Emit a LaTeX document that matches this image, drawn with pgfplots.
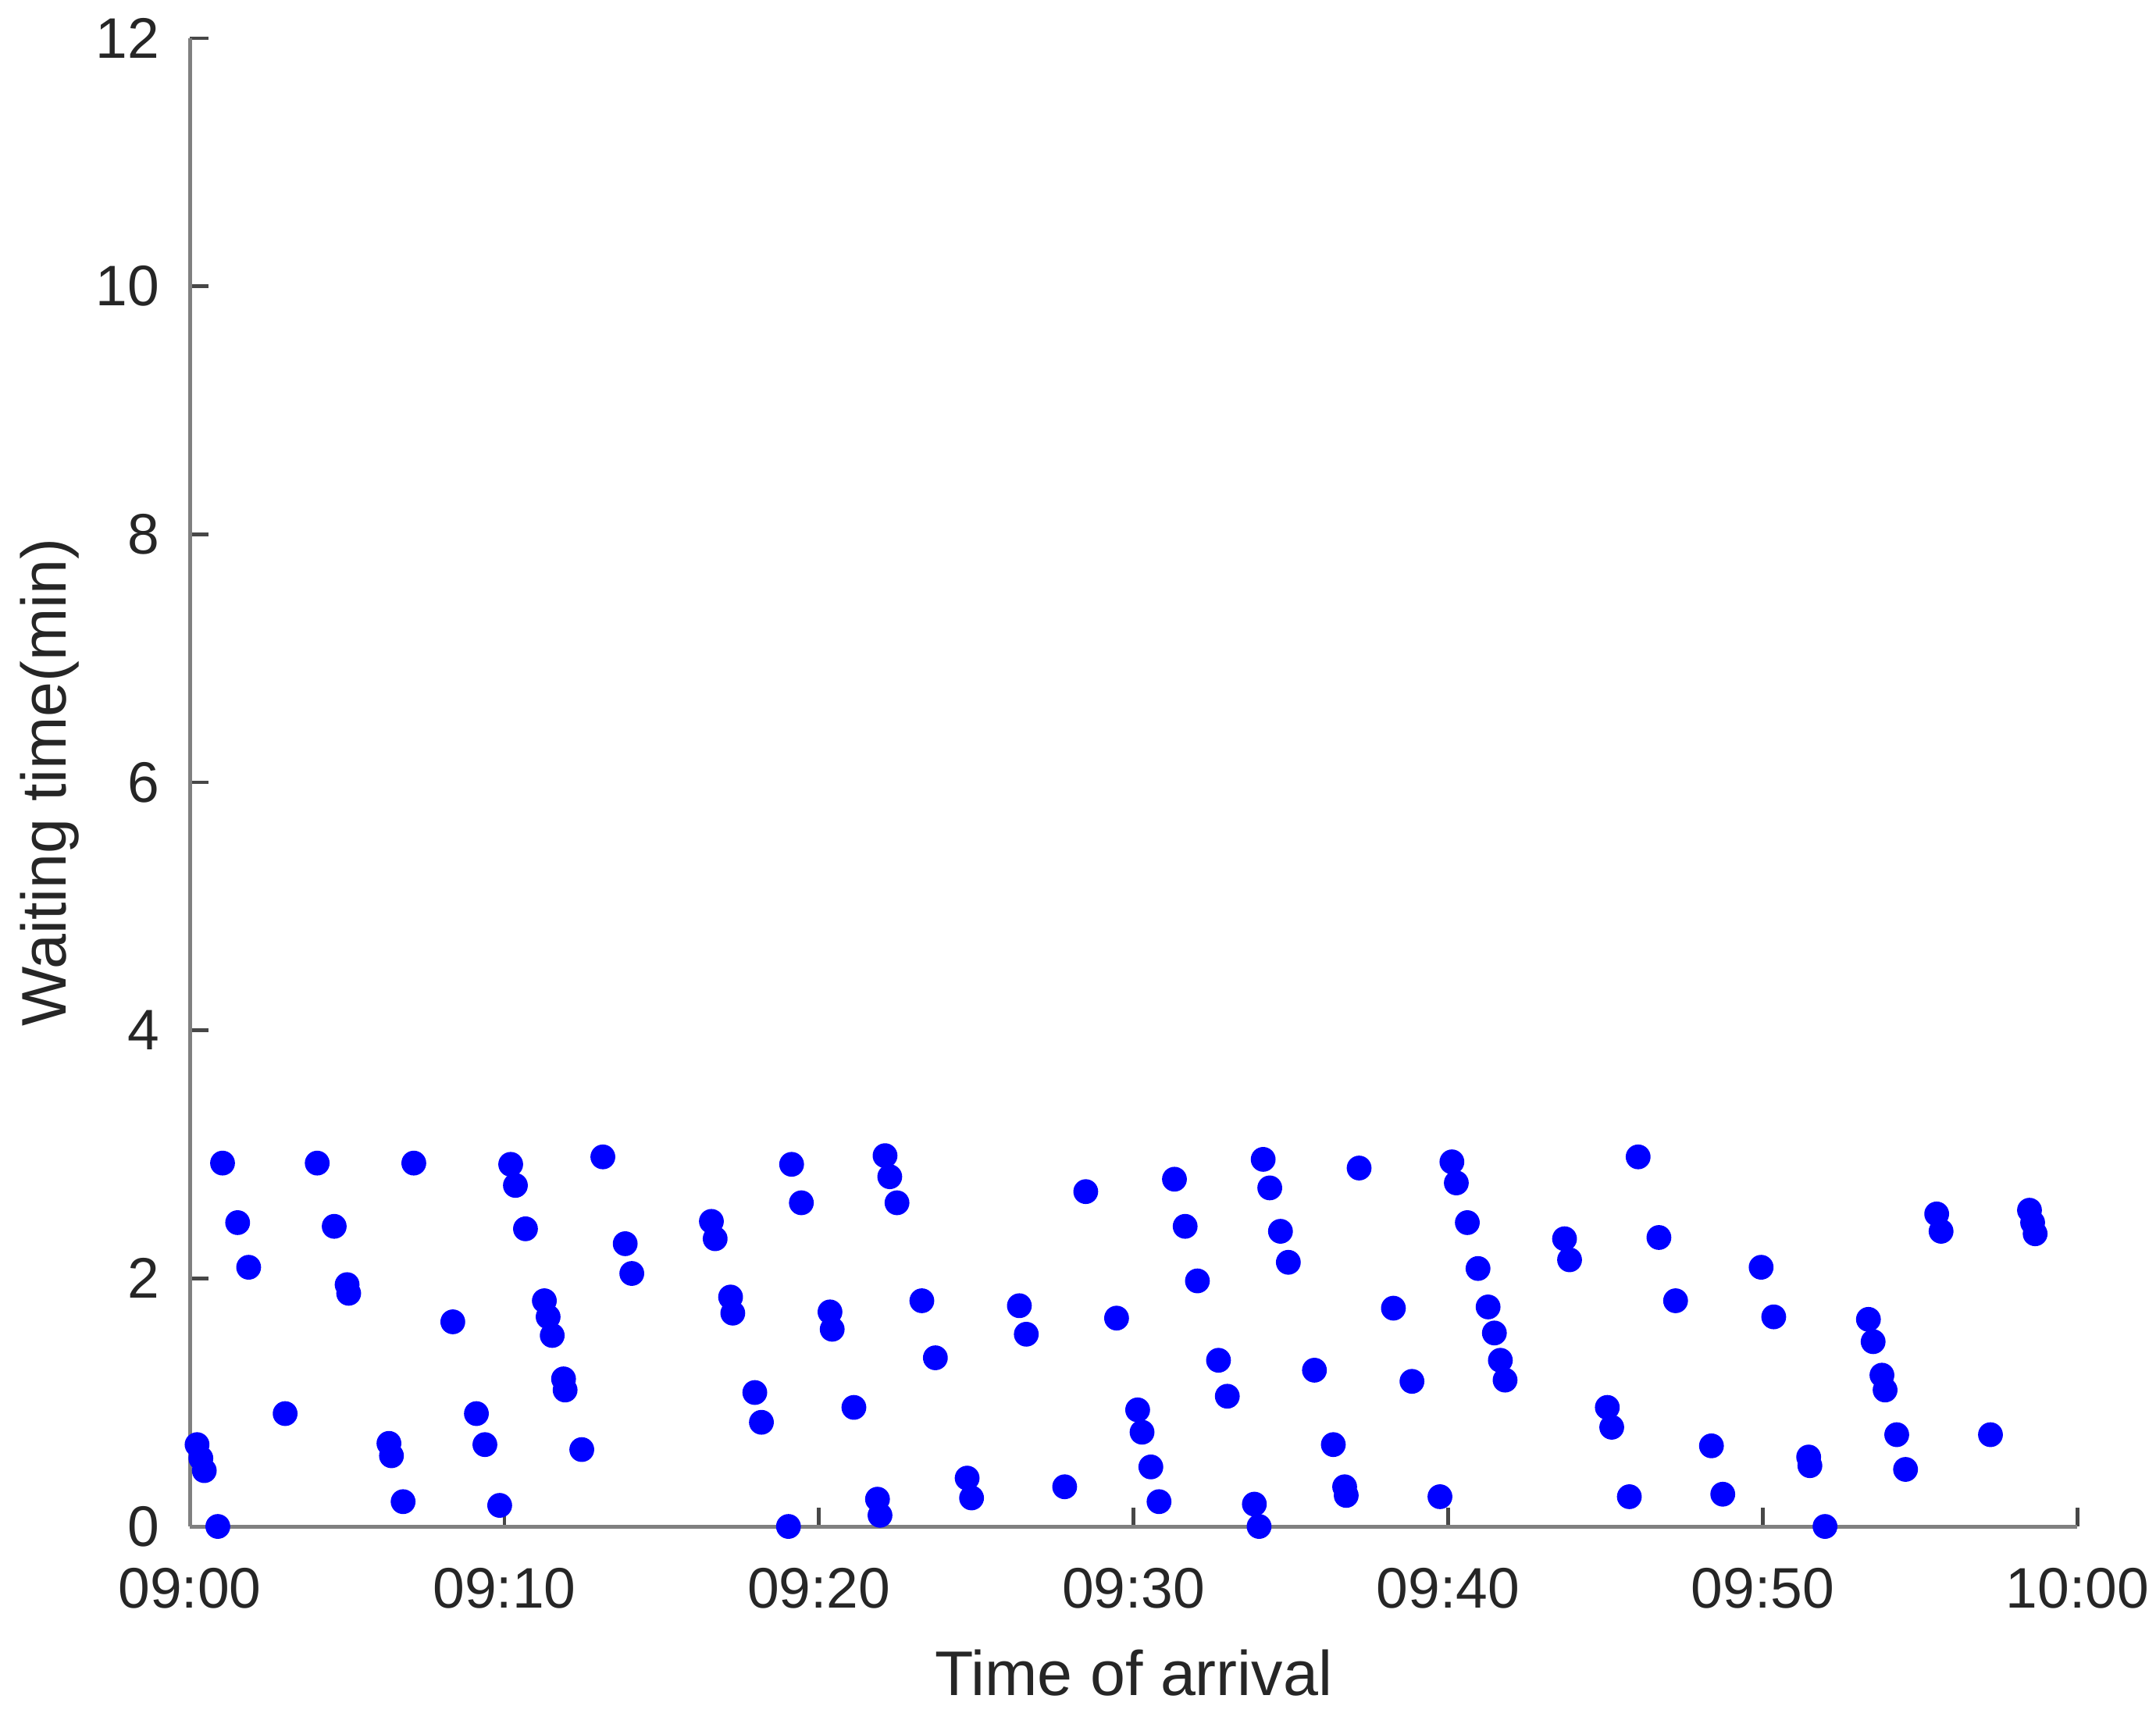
\documentclass[border=0pt]{standalone}
\usepackage{pgfplots}
\pgfplotsset{compat=1.18}
\usepackage{fontspec}
\setmainfont{Liberation Sans}
\definecolor{txt}{RGB}{38,38,38}
\definecolor{axl}{RGB}{128,128,128}
\definecolor{mblue}{RGB}{0,0,255}
\begin{document}
\begin{tikzpicture}
\begin{axis}[
  scale only axis, width=350pt, height=276pt,
  xmin=0, xmax=60, ymin=0, ymax=12,
  axis x line*=bottom, axis y line*=left,
  axis line style={axl, line width=0.7pt},
  xtick={0,10,20,30,40,50,60},
  xticklabels={09:00,09:10,09:20,09:30,09:40,09:50,10:00},
  ytick={0,2,4,6,8,10,12},
  tick align=inside, xtick align=inside, ytick align=inside,
  major tick length=3.5pt,
  tick style={color=txt!85!white, line width=0.7pt},
  clip=false,
  /pgf/number format/assume math mode=true,
  ticklabel style={font=\fontsize{10.6}{12}\selectfont, text=txt},
  xticklabel style={anchor=center, inner sep=0pt, yshift=-11.5pt},
  yticklabel style={anchor=east, inner sep=0pt, xshift=-5.4pt},
  xlabel={Time of arrival}, ylabel={Waiting time(min)},
  label style={font=\fontsize{11.7}{14}\selectfont, text=txt},
  xlabel style={at={(axis description cs:0.5,-0.0986)}, anchor=center},
  ylabel style={at={(axis description cs:-0.0743,0.5)}, anchor=center},
]
\addplot[only marks, mark=*, mark size=2.1pt, color=mblue] table {
x y
0.23 0.66
0.35 0.55
0.46 0.45
0.89 0.00
1.04 2.93
1.52 2.45
1.87 2.09
3.03 0.91
4.05 2.93
4.59 2.42
5.00 1.95
5.05 1.88
6.33 0.67
6.41 0.57
6.78 0.20
7.12 2.93
8.36 1.65
9.11 0.91
9.38 0.66
9.85 0.17
10.20 2.92
10.35 2.75
10.67 2.40
11.27 1.82
11.39 1.69
11.52 1.54
11.88 1.19
11.93 1.10
12.46 0.62
13.13 2.98
13.84 2.28
14.05 2.04
16.58 2.46
16.70 2.32
17.19 1.85
17.26 1.72
17.96 1.08
18.17 0.84
19.03 0.00
19.13 2.92
19.44 2.61
20.35 1.73
20.42 1.59
21.11 0.96
21.86 0.22
21.94 0.09
22.10 2.99
22.25 2.82
22.48 2.61
23.27 1.82
23.70 1.36
24.71 0.39
24.85 0.23
26.37 1.78
26.59 1.55
27.81 0.32
28.48 2.70
29.46 1.68
30.13 0.94
30.27 0.76
30.55 0.48
30.81 0.20
31.30 2.80
31.64 2.42
32.03 1.98
32.70 1.34
32.98 1.05
33.84 0.18
33.99 0.00
34.12 2.96
34.33 2.73
34.67 2.38
34.92 2.13
35.75 1.26
36.35 0.66
36.71 0.32
36.76 0.25
37.17 2.89
38.26 1.76
38.85 1.17
39.74 0.24
40.12 2.94
40.26 2.77
40.61 2.45
40.95 2.08
41.27 1.77
41.47 1.56
41.66 1.34
41.81 1.18
43.70 2.32
43.86 2.15
45.06 0.96
45.20 0.80
45.76 0.24
46.04 2.98
46.70 2.33
47.23 1.82
48.37 0.65
48.73 0.26
49.95 2.09
50.35 1.69
51.46 0.56
51.50 0.49
51.98 0.00
53.36 1.67
53.51 1.49
53.79 1.22
53.89 1.10
54.26 0.74
54.54 0.46
55.53 2.52
55.67 2.38
57.24 0.74
58.48 2.55
58.58 2.45
58.66 2.36
};
\end{axis}
\pgfresetboundingbox
\path[use as bounding box] ([shift={(-35.2pt,-34.5pt)}]current axis.south west) rectangle ([shift={(14.6pt,7.1pt)}]current axis.north east);
\end{tikzpicture}
\end{document}
